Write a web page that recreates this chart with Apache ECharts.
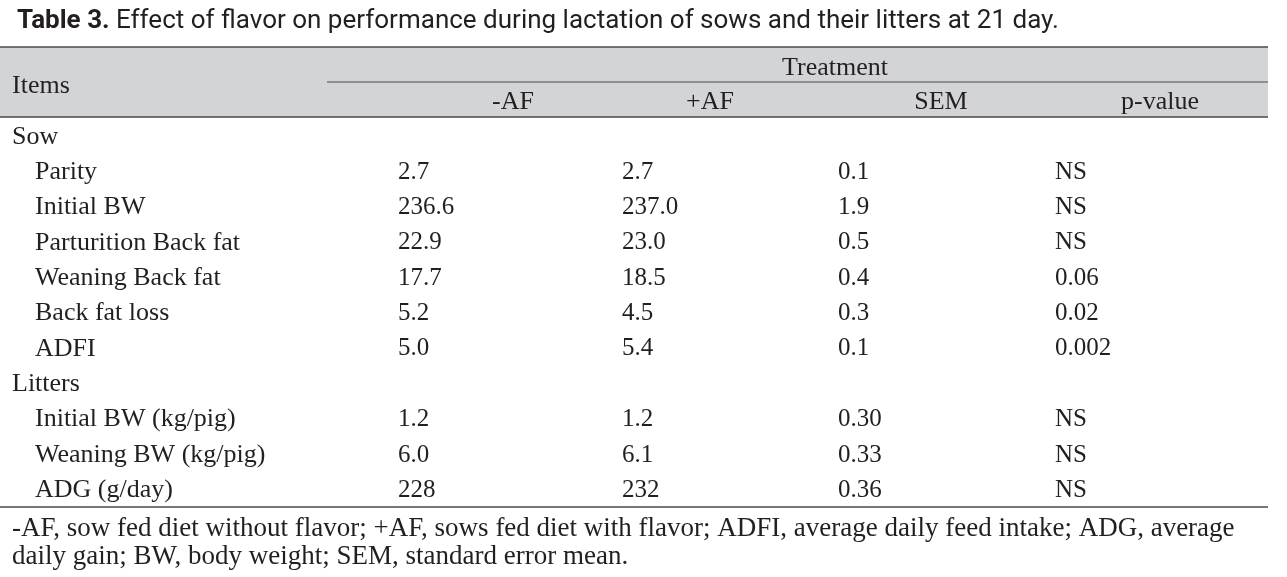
<!DOCTYPE html>
<html>
<head>
<meta charset="utf-8">
<title>Table 3</title>
<script src="https://cdn.jsdelivr.net/npm/echarts@6/dist/echarts.min.js"></script>
<style>
  html, body { margin: 0; padding: 0; background: #fff; }
  #main { width: 1287px; height: 577px; }
</style>
</head>
<body>
<div id="main"></div>
<script>
// table data
var items = ['Sow', 'Parity', 'Initial BW', 'Parturition Back fat', 'Weaning Back fat', 'Back fat loss', 'ADFI',
  'Litters', 'Initial BW (kg/pig)', 'Weaning BW (kg/pig)', 'ADG (g/day)']
var isGroup = [true, false, false, false, false, false, false, true, false, false, false]
var minusAF = ['', '2.7', '236.6', '22.9', '17.7', '5.2', '5.0', '', '1.2', '6.0', '228']
var plusAF = ['', '2.7', '237.0', '23.0', '18.5', '4.5', '5.4', '', '1.2', '6.1', '232']
var sem = ['', '0.1', '1.9', '0.5', '0.4', '0.3', '0.1', '', '0.30', '0.33', '0.36']
var pValue = ['', 'NS', 'NS', 'NS', '0.06', '0.02', '0.002', '', 'NS', 'NS', 'NS']
var headers = ['-AF', '+AF', 'SEM', 'p-value']
var footnote = ['-AF, sow fed diet without flavor; +AF, sows fed diet with flavor; ADFI, average daily feed intake; ADG, average',
  'daily gain; BW, body weight; SEM, standard error mean.']

// layout
var colX = [398, 622, 838, 1055]
var headX = [513, 710, 941, 1160]
var serif = '"Liberation Serif", "DejaVu Serif", serif'
var ink = '#231f20'
var lineColor = '#4a4a4a'

var chart = echarts.init(document.getElementById('main'))

var rows = items.map(function (name, i) { return [0, i] })

chart.setOption({
  animation: false,
  title: {
    left: 12,
    top: 3,
    text: '{b|Table 3.} Effect of flavor on performance during lactation of sows and their litters at 21 day.',
    textStyle: {
      fontFamily: 'Roboto',
      fontSize: 26,
      fontWeight: 'normal',
      color: ink,
      rich: {
        b: { fontFamily: 'Roboto', fontSize: 26, fontWeight: 'bold', color: ink }
      }
    }
  },
  grid: { left: 0, right: 0, top: 118, bottom: 70 },
  xAxis: { type: 'value', min: 0, max: 1, show: false },
  yAxis: { type: 'category', inverse: true, data: items, show: false },
  graphic: [
    { type: 'rect', shape: { x: 0, y: 47, width: 1268, height: 70 }, style: { fill: '#d3d4d6' }, silent: true },
    { type: 'line', shape: { x1: 0, y1: 47, x2: 1268, y2: 47 }, style: { stroke: lineColor, lineWidth: 1.5 } },
    { type: 'line', shape: { x1: 327, y1: 82, x2: 1268, y2: 82 }, style: { stroke: lineColor, lineWidth: 1.2 } },
    { type: 'line', shape: { x1: 0, y1: 117, x2: 1268, y2: 117 }, style: { stroke: lineColor, lineWidth: 1.5 } },
    { type: 'line', shape: { x1: 0, y1: 507, x2: 1268, y2: 507 }, style: { stroke: lineColor, lineWidth: 1.5 } },
    { type: 'text', x: 12, y: 86, style: { text: 'Items', font: '26px ' + serif, fill: ink, textVerticalAlign: 'middle' } },
    { type: 'text', x: 835, y: 68, style: { text: 'Treatment', font: '26px ' + serif, fill: ink, textAlign: 'center', textVerticalAlign: 'middle' } }
  ].concat(headers.map(function (h, i) {
    return { type: 'text', x: headX[i], y: 102, style: { text: h, font: '26px ' + serif, fill: ink, textAlign: 'center', textVerticalAlign: 'middle' } }
  })).concat(footnote.map(function (t, i) {
    return { type: 'text', x: 12, y: 529 + i * 28, style: { text: t, font: '27px ' + serif, fill: ink, textVerticalAlign: 'middle' } }
  })),
  series: [{
    type: 'custom',
    data: rows,
    renderItem: function (params, api) {
      var i = api.value(1)
      var p = api.coord([0, i])
      var y = p[1] + 1
      var cells = [
        { x: isGroup[i] ? 12 : 35, t: items[i], size: 26 },
        { x: colX[0], t: minusAF[i], size: 25 },
        { x: colX[1], t: plusAF[i], size: 25 },
        { x: colX[2], t: sem[i], size: 25 },
        { x: colX[3], t: pValue[i], size: 25 }
      ]
      return {
        type: 'group',
        children: cells.map(function (c) {
          return {
            type: 'text',
            x: c.x,
            y: y,
            style: { text: c.t, font: c.size + 'px ' + serif, fill: ink, textVerticalAlign: 'middle' }
          }
        })
      }
    }
  }]
})
</script>
</body>
</html>
